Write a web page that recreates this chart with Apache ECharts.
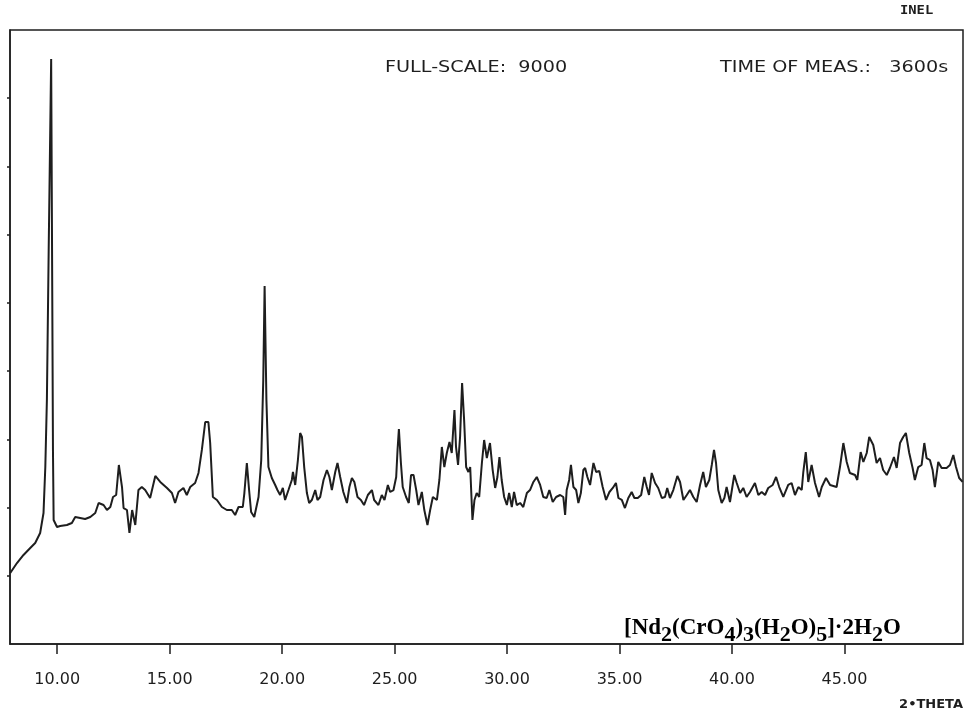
<!DOCTYPE html>
<html>
<head>
<meta charset="utf-8">
<script src="https://cdn.jsdelivr.net/npm/echarts@6/dist/echarts.min.js"></script>
<style>
  html, body { margin: 0; padding: 0; background: #fff; }
  #chart { width: 971px; height: 713px; }
</style>
</head>
<body>
<div id="chart"></div>
<script>
// 2-theta positions (degrees)
const twoTheta = [
    7.91, 8.21, 8.50, 8.80, 9.02, 9.24, 9.39, 9.47, 9.54, 9.62, 9.73, 9.78, 9.81, 9.84, 9.99,
    10.13, 10.43, 10.65, 10.80, 11.02, 11.24, 11.47, 11.69, 11.84, 12.06, 12.21, 12.36, 12.48, 12.62, 12.74,
    12.88, 12.95, 13.10, 13.21, 13.33, 13.47, 13.61, 13.76, 13.91, 14.13, 14.36, 14.58, 14.88, 15.10, 15.24,
    15.39, 15.61, 15.76, 15.91, 16.13, 16.28, 16.43, 16.58, 16.72, 16.80, 16.92, 17.10, 17.32, 17.54, 17.76,
    17.91, 18.06, 18.25, 18.32, 18.43, 18.53, 18.62, 18.76, 18.95, 19.07, 19.16, 19.22, 19.30, 19.39, 19.54,
    19.69, 19.79, 19.91, 20.03, 20.13, 20.28, 20.43, 20.48, 20.58, 20.70, 20.80, 20.88, 20.98, 21.10, 21.20,
    21.32, 21.47, 21.57, 21.69, 21.84, 21.99, 22.10, 22.21, 22.36, 22.46, 22.58, 22.72, 22.88, 22.99, 23.10,
    23.21, 23.35, 23.50, 23.64, 23.81, 23.99, 24.09, 24.28, 24.43, 24.55, 24.70, 24.80, 24.95, 25.07, 25.13,
    25.19, 25.28, 25.36, 25.51, 25.63, 25.73, 25.84, 25.96, 26.06, 26.21, 26.32, 26.46, 26.58, 26.70, 26.88,
    26.99, 27.10, 27.21, 27.32, 27.44, 27.54, 27.66, 27.73, 27.82, 27.91, 28.00, 28.09, 28.18, 28.28, 28.36,
    28.46, 28.55, 28.65, 28.76, 28.88, 28.98, 29.10, 29.24, 29.36, 29.47, 29.57, 29.66, 29.76, 29.87, 29.99,
    30.09, 30.21, 30.31, 30.43, 30.58, 30.72, 30.88, 31.02, 31.17, 31.32, 31.47, 31.61, 31.76, 31.88, 32.03,
    32.18, 32.36, 32.50, 32.58, 32.65, 32.76, 32.84, 32.95, 33.07, 33.17, 33.28, 33.39, 33.47, 33.57, 33.69,
    33.84, 33.96, 34.10, 34.25, 34.40, 34.55, 34.70, 34.84, 34.95, 35.10, 35.24, 35.39, 35.54, 35.66, 35.81,
    35.96, 36.10, 36.21, 36.31, 36.43, 36.58, 36.72, 36.88, 37.02, 37.12, 37.24, 37.39, 37.57, 37.69, 37.84,
    37.99, 38.13, 38.28, 38.43, 38.58, 38.72, 38.84, 38.99, 39.10, 39.20, 39.29, 39.39, 39.54, 39.66, 39.76,
    39.91, 40.10, 40.21, 40.36, 40.50, 40.65, 40.80, 41.02, 41.17, 41.32, 41.47, 41.61, 41.81, 41.96, 42.10,
    42.28, 42.50, 42.65, 42.80, 42.95, 43.10, 43.17, 43.28, 43.39, 43.54, 43.69, 43.87, 43.99, 44.18, 44.36,
    44.65, 44.80, 44.95, 45.10, 45.24, 45.47, 45.57, 45.72, 45.84, 45.99, 46.10, 46.28, 46.43, 46.58, 46.72,
    46.88, 47.02, 47.20, 47.32, 47.47, 47.61, 47.73, 47.88, 48.03, 48.13, 48.28, 48.43, 48.55, 48.65, 48.80,
    48.92, 49.02, 49.17, 49.32, 49.54, 49.69, 49.84, 49.96, 50.10, 50.25
];

// counts at each position (full scale 9000)
const intensity = [
    1041, 1187, 1305, 1407, 1480, 1627, 1920, 2594, 3577, 5775, 8575, 5042, 2844, 1818, 1715,
    1730, 1744, 1774, 1862, 1847, 1832, 1862, 1920, 2067, 2037, 1964, 2008, 2155, 2184, 2624,
    2301, 1993, 1964, 1627, 1964, 1744, 2257, 2301, 2257, 2140, 2463, 2375, 2287, 2213, 2067,
    2228, 2287, 2184, 2301, 2360, 2507, 2844, 3254, 3254, 2946, 2155, 2111, 2008, 1964, 1964,
    1891, 2008, 2008, 2213, 2653, 2257, 1935, 1862, 2155, 2697, 3870, 5248, 3577, 2594, 2433,
    2331, 2257, 2184, 2287, 2111, 2257, 2404, 2521, 2331, 2697, 3093, 3034, 2594, 2213, 2067,
    2111, 2257, 2111, 2155, 2404, 2550, 2448, 2257, 2521, 2653, 2448, 2228, 2067, 2301, 2433,
    2375, 2155, 2111, 2037, 2184, 2257, 2111, 2037, 2184, 2111, 2331, 2228, 2257, 2448, 2844,
    3151, 2653, 2301, 2155, 2067, 2477, 2477, 2257, 2037, 2228, 1964, 1744, 1964, 2155, 2111,
    2404, 2888, 2594, 2800, 2961, 2800, 3430, 2888, 2624, 3034, 3826, 3283, 2594, 2521, 2594,
    1818, 2111, 2213, 2155, 2653, 2990, 2726, 2946, 2550, 2287, 2448, 2741, 2404, 2155, 2037,
    2213, 2008, 2228, 2037, 2067, 2008, 2213, 2257, 2375, 2448, 2331, 2155, 2140, 2257, 2081,
    2155, 2184, 2155, 1891, 2257, 2404, 2624, 2301, 2257, 2067, 2213, 2550, 2580, 2448, 2331,
    2653, 2521, 2536, 2301, 2111, 2228, 2287, 2360, 2140, 2111, 1993, 2140, 2228, 2140, 2140,
    2184, 2448, 2301, 2184, 2507, 2360, 2287, 2140, 2155, 2287, 2140, 2257, 2463, 2375, 2111,
    2184, 2257, 2155, 2081, 2331, 2521, 2301, 2404, 2624, 2844, 2653, 2257, 2067, 2140, 2301,
    2081, 2477, 2360, 2213, 2287, 2155, 2228, 2360, 2184, 2228, 2184, 2287, 2331, 2448, 2301,
    2155, 2331, 2360, 2184, 2301, 2257, 2521, 2814, 2375, 2624, 2360, 2155, 2301, 2433, 2331,
    2301, 2594, 2946, 2668, 2507, 2477, 2404, 2814, 2668, 2800, 3034, 2917, 2653, 2726, 2550,
    2477, 2580, 2741, 2580, 2946, 3034, 3093, 2800, 2580, 2404, 2594, 2624, 2946, 2726, 2697,
    2550, 2301, 2668, 2580, 2580, 2624, 2770, 2594, 2433, 2375
];

const xTicks = [10, 15, 20, 25, 30, 35, 40, 45];
const yTicks = [1000, 2000, 3000, 4000, 5000, 6000, 7000, 8000];

function drawScan (domId) {
    const chart = echarts.init(document.getElementById(domId));
    const points = twoTheta.map((t, i) => [t, intensity[i]]);
    const ink = "#1e1e1e";
    const option = {
        animation: false,
        grid: {
            left: 10,
            right: 8,
            top: 30,
            bottom: 69,
            show: true,
            borderColor: ink,
            borderWidth: 1.5
        },
        xAxis: {
            type: "value",
            min: 7.9,
            max: 50.27,
            name: "2\u2022THETA",
            nameLocation: "end",
            nameGap: 0,
            nameTextStyle: {
                fontFamily: "DejaVu Sans",
                fontWeight: "bold",
                fontSize: 13,
                color: ink,
                align: "right",
                verticalAlign: "top",
                padding: [54, 0, 0, 0]
            },
            splitLine: { show: false },
            axisLine: { show: true, lineStyle: { color: ink, width: 1.5 } },
            axisTick: {
                show: true,
                length: 10,
                customValues: xTicks,
                lineStyle: { color: ink, width: 1.5 }
            },
            axisLabel: {
                customValues: xTicks,
                formatter: v => v.toFixed(2),
                margin: 28,
                fontFamily: "DejaVu Sans",
                fontSize: 16,
                color: ink
            }
        },
        yAxis: {
            type: "value",
            min: 0,
            max: 9000,
            splitLine: { show: false },
            axisLine: { show: true, lineStyle: { color: ink, width: 1.5 } },
            axisTick: {
                show: true,
                length: 3,
                customValues: yTicks,
                lineStyle: { color: ink, width: 1.5 }
            },
            axisLabel: { show: false }
        },
        graphic: [
            {
                type: "text",
                left: 900,
                top: 5,
                scaleX: 1.15,
                style: {
                    text: "INEL",
                    font: "bold 12px 'DejaVu Sans Mono'",
                    fill: ink
                }
            },
            {
                type: "text",
                x: 385,
                y: 60,
                scaleX: 1.2,
                style: {
                    text: "FULL-SCALE:  9000",
                    font: "16px 'DejaVu Sans'",
                    fill: ink
                }
            },
            {
                type: "text",
                x: 720,
                y: 60,
                scaleX: 1.2,
                style: {
                    text: "TIME OF MEAS.:   3600s",
                    font: "16px 'DejaVu Sans'",
                    fill: ink
                }
            },
            {
                type: "text",
                left: 624,
                top: 617,
                style: {
                    text: "{a|[Nd}{s|2}{a|(CrO}{s|4}{a|)}{s|3}{a|(H}{s|2}{a|O)}{s|5}{a|]\u00b72H}{s|2}{a|O}",
                    rich: {
                        a: {
                            fontFamily: "Liberation Serif",
                            fontWeight: "bold",
                            fontSize: 23,
                            lineHeight: 26,
                            verticalAlign: "top",
                            color: ink
                        },
                        s: {
                            fontFamily: "Liberation Serif",
                            fontWeight: "bold",
                            fontSize: 22,
                            lineHeight: 29,
                            verticalAlign: "bottom",
                            color: ink
                        }
                    }
                }
            }
        ],
        series: [
            {
                type: "line",
                data: points,
                showSymbol: false,
                smooth: false,
                lineStyle: { color: ink, width: 2 }
            }
        ]
    };
    chart.setOption(option);
    return chart;
}

drawScan("chart");
</script>
</body>
</html>
